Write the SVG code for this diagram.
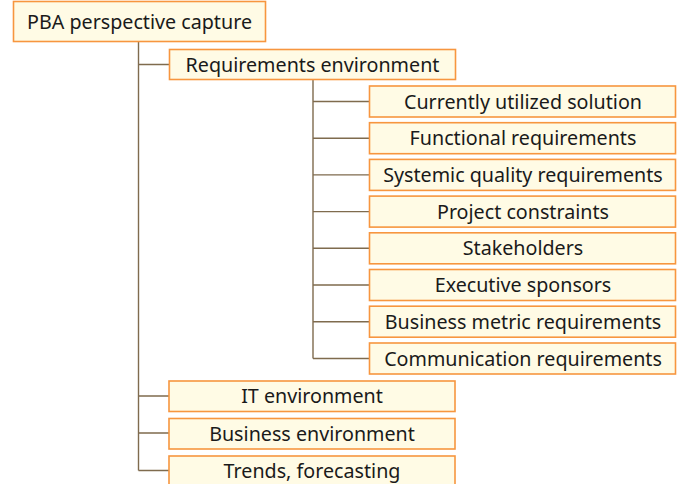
<svg xmlns="http://www.w3.org/2000/svg" width="682" height="484" viewBox="0 0 682 484">
<style>
.box{fill:#FFFBE5;stroke:#F7963F;stroke-width:1.6}
.t{font-family:"Noto Sans","Open Sans","DejaVu Sans",sans-serif;font-size:19.7px;fill:#1A1A1A;text-anchor:middle}
.c{fill:none;stroke:#7F6B4E;stroke-width:1.4}
</style>
<rect width="682" height="484" fill="#FFFFFF"/>
<g id="connectors">
<path class="c" d="M138.5 41.5V470.5M138.5 64.5H169.5M138.5 396H169M138.5 433H169M138.5 470.5H169"/>
<path class="c" d="M313 79.5V358.5M313 101.5H369M313 138.2H369M313 174.9H369M313 211.6H369M313 248.3H369M313 285H369M313 321.7H369M313 358.5H369"/>
</g>
<g id="root"><rect class="box" x="13.5" y="1.5" width="252" height="40"/><text class="t" x="139.5" y="28.5">PBA perspective capture</text></g>
<g id="req-env"><rect class="box" x="169.5" y="49.5" width="286" height="30"/><text class="t" x="312.5" y="71.5">Requirements environment</text></g>
<g id="n1"><rect class="box" x="369.5" y="86" width="306" height="31"/><text class="t" x="523" y="108.5">Currently utilized solution</text></g>
<g id="n2"><rect class="box" x="369.5" y="122.7" width="306" height="31"/><text class="t" x="523" y="145.2">Functional requirements</text></g>
<g id="n3"><rect class="box" x="369.5" y="159.4" width="306" height="31"/><text class="t" x="523" y="181.9">Systemic quality requirements</text></g>
<g id="n4"><rect class="box" x="369.5" y="196.1" width="306" height="31"/><text class="t" x="523" y="218.6">Project constraints</text></g>
<g id="n5"><rect class="box" x="369.5" y="232.8" width="306" height="31"/><text class="t" x="523" y="255.3">Stakeholders</text></g>
<g id="n6"><rect class="box" x="369.5" y="269.5" width="306" height="31"/><text class="t" x="523" y="292">Executive sponsors</text></g>
<g id="n7"><rect class="box" x="369.5" y="306.2" width="306" height="31"/><text class="t" x="523" y="328.7">Business metric requirements</text></g>
<g id="n8"><rect class="box" x="369.5" y="343" width="306" height="31"/><text class="t" x="523" y="365.5">Communication requirements</text></g>
<g id="it-env"><rect class="box" x="169" y="381" width="286" height="30.5"/><text class="t" x="312" y="403">IT environment</text></g>
<g id="bus-env"><rect class="box" x="169" y="418.5" width="286" height="30.5"/><text class="t" x="312" y="440.5">Business environment</text></g>
<g id="trends"><rect class="box" x="169" y="456" width="286" height="30.5"/><text class="t" x="312" y="478">Trends, forecasting</text></g>
</svg>
